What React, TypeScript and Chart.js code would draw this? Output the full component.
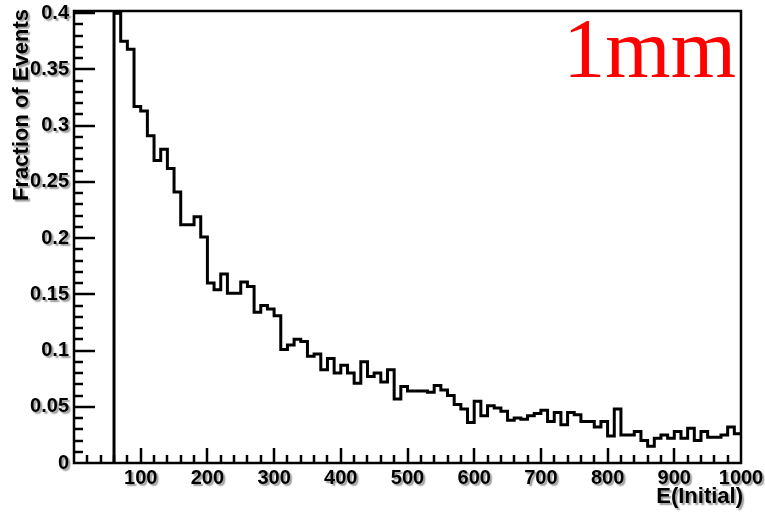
import React, { useEffect, useRef } from 'react';
import { Chart, registerables } from 'chart.js';

Chart.register(...registerables);

const X_TITLE = 'E(Initial)';
const Y_TITLE = 'Fraction of Events';
const CORNER_LABEL = '1mm';

const BIN_FIRST_EDGE = 60;
const BIN_WIDTH = 10;
const X_MIN = 0;
const X_MAX = 1000;
const Y_MIN = 0;
const Y_MAX = 0.402;

// fraction of events per 10-unit bin, starting at E = 60
const FRACTIONS = [
  0.400, 0.375, 0.368, 0.317, 0.313, 0.291, 0.269, 0.279, 0.262, 0.241,
  0.212, 0.212, 0.219, 0.201, 0.160, 0.154, 0.168, 0.151, 0.151, 0.161,
  0.157, 0.134, 0.140, 0.137, 0.131, 0.101, 0.105, 0.110, 0.108, 0.095,
  0.097, 0.083, 0.093, 0.080, 0.087, 0.080, 0.071, 0.090, 0.077, 0.080,
  0.072, 0.083, 0.057, 0.068, 0.064, 0.064, 0.064, 0.063, 0.069, 0.065,
  0.060, 0.052, 0.048, 0.036, 0.055, 0.042, 0.051, 0.049, 0.046, 0.038,
  0.040, 0.039, 0.042, 0.044, 0.047, 0.037, 0.045, 0.034, 0.045, 0.043,
  0.037, 0.037, 0.032, 0.037, 0.024, 0.048, 0.025, 0.025, 0.028, 0.020,
  0.015, 0.022, 0.025, 0.022, 0.028, 0.022, 0.031, 0.020, 0.028, 0.023,
  0.023, 0.025, 0.032, 0.026,
];

const X_TICKS = [100, 200, 300, 400, 500, 600, 700, 800, 900, 1000];
const X_TICK_LABELS = ['100', '200', '300', '400', '500', '600', '700', '800', '900', '1000'];
const Y_TICKS = [0, 0.05, 0.1, 0.15, 0.2, 0.25, 0.3, 0.35, 0.4];
const Y_TICK_LABELS = ['0', '0.05', '0.1', '0.15', '0.2', '0.25', '0.3', '0.35', '0.4'];
const X_MINOR_STEP = 20;
const Y_MINOR_STEP = 0.01;

const LABEL_FONT = 'bold 20px "Liberation Sans", Arial, sans-serif';
const TITLE_FONT = 'bold 22px "Liberation Sans", Arial, sans-serif';

const rootStylePlugin = {
  id: 'rootStyle',
  afterDraw(chart: any) {
    const { ctx, chartArea, scales } = chart;
    const { left, right, top, bottom } = chartArea;
    const xs = scales.x;
    const ys = scales.y;
    ctx.save();
    ctx.strokeStyle = '#000';
    ctx.lineWidth = 2.5;
    ctx.lineCap = 'butt';
    // frame
    ctx.beginPath();
    ctx.rect(left, top, right - left, bottom - top);
    ctx.stroke();

    // x ticks
    ctx.lineWidth = 2.5;
    ctx.beginPath();
    for (let v = X_MIN + X_MINOR_STEP; v < X_MAX; v += X_MINOR_STEP) {
      const px = Math.round(xs.getPixelForValue(v));
      const major = X_TICKS.includes(v);
      ctx.moveTo(px, bottom);
      ctx.lineTo(px, bottom - (major ? 15 : 8));
    }
    // y ticks
    for (let k = 1; k * Y_MINOR_STEP <= Y_MAX + 1e-9; k++) {
      const v = k * Y_MINOR_STEP;
      const py = Math.round(ys.getPixelForValue(v));
      const major = k % 5 === 0;
      ctx.moveTo(left, py);
      ctx.lineTo(left + (major ? 21 : 9), py);
    }
    ctx.stroke();

    // labels with soft shadow
    ctx.fillStyle = '#000';
    ctx.shadowColor = 'rgba(0,0,0,0.4)';
    ctx.shadowOffsetX = 2;
    ctx.shadowOffsetY = 2;
    ctx.shadowBlur = 1.5;
    ctx.font = LABEL_FONT;
    ctx.textAlign = 'right';
    ctx.textBaseline = 'middle';
    Y_TICKS.forEach((v, i) => {
      ctx.fillText(Y_TICK_LABELS[i], left - 5, ys.getPixelForValue(v));
    });
    ctx.textAlign = 'center';
    ctx.textBaseline = 'top';
    X_TICKS.forEach((v, i) => {
      ctx.fillText(X_TICK_LABELS[i], xs.getPixelForValue(v), bottom + 5);
    });
    ctx.font = TITLE_FONT;
    ctx.textAlign = 'right';
    ctx.textBaseline = 'alphabetic';
    ctx.fillText(X_TITLE, right + 2, bottom + 40);

    ctx.save();
    ctx.translate(22, top - 2);
    ctx.rotate(-Math.PI / 2);
    ctx.textAlign = 'right';
    ctx.textBaseline = 'middle';
    ctx.fillText(Y_TITLE, 0, 0);
    ctx.restore();

    ctx.shadowColor = 'rgba(0,0,0,0)';
    ctx.shadowBlur = 0;
    ctx.shadowOffsetX = 0;
    ctx.shadowOffsetY = 0;
    ctx.fillStyle = '#ff0000';
    ctx.font = '84px "Liberation Serif", "Times New Roman", serif';
    ctx.textAlign = 'right';
    ctx.textBaseline = 'alphabetic';
    ctx.fillText(CORNER_LABEL, right - 5, top + 66);
    ctx.restore();
  },
};

export default function App() {
  const ref = useRef<HTMLCanvasElement | null>(null);
  useEffect(() => {
    if (!ref.current) return;
    const points: { x: number; y: number }[] = [{ x: BIN_FIRST_EDGE, y: 0 }];
    FRACTIONS.forEach((f, i) => points.push({ x: BIN_FIRST_EDGE + BIN_WIDTH * i, y: f }));
    points.push({ x: X_MAX, y: FRACTIONS[FRACTIONS.length - 1] });
    const chart = new Chart(ref.current, {
      type: 'line',
      data: {
        datasets: [
          {
            data: points,
            stepped: true,
            borderColor: '#000',
            borderWidth: 3,
            borderJoinStyle: 'miter',
            borderCapStyle: 'butt',
            pointRadius: 0,
            fill: false,
          } as any,
        ],
      },
      options: {
        animation: false,
        responsive: false,
        maintainAspectRatio: false,
        events: [],
        layout: { padding: { left: 74, right: 24, top: 11, bottom: 49 } },
        plugins: { legend: { display: false }, tooltip: { enabled: false }, title: { display: false } },
        scales: {
          x: { type: 'linear', min: X_MIN, max: X_MAX, display: false },
          y: { type: 'linear', min: Y_MIN, max: Y_MAX, display: false },
        },
      },
      plugins: [rootStylePlugin],
    });
    return () => chart.destroy();
  }, []);
  return (
    <div style={{ position: 'absolute', left: 0, top: 0, width: 765, height: 512, background: '#fff' }}>
      <canvas ref={ref} width={765} height={512} style={{ display: 'block', width: 765, height: 512 }} />
    </div>
  );
}
